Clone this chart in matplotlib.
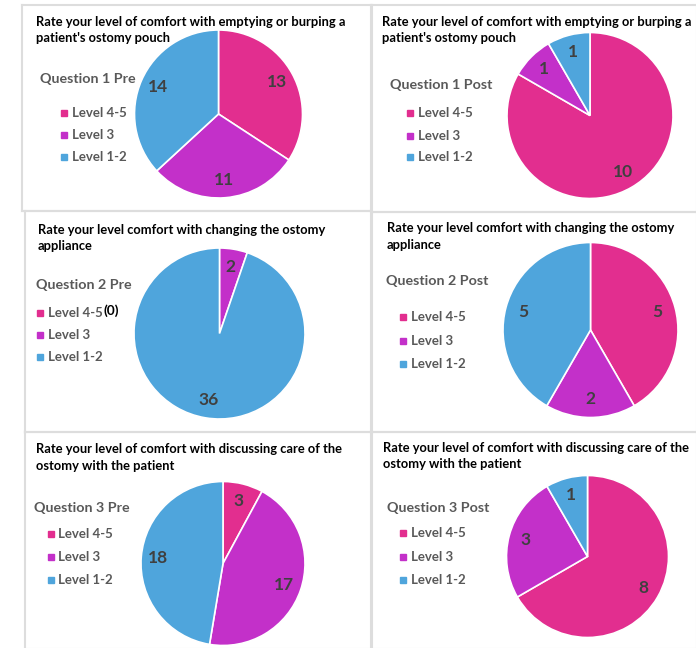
import matplotlib.pyplot as plt
from matplotlib.patches import Rectangle
from matplotlib.lines import Line2D

plt.rcParams['font.family'] = ['Lato', 'DejaVu Sans']

W, H = 696, 648

levels = ['Level 4-5', 'Level 3', 'Level 1-2']
colors = ['#E22E8F', '#C330C9', '#4FA5DC']

q1_pre = [13, 11, 14]
q1_post = [10, 1, 1]
q2_pre = [0, 2, 36]
q2_post = [5, 2, 5]
q3_pre = [3, 17, 18]
q3_post = [8, 3, 1]

title_q1 = ["Rate your level of comfort with emptying or burping a", "patient's ostomy pouch"]
title_q2 = ["Rate your level comfort with changing the ostomy", "appliance"]
title_q3 = ["Rate your level of comfort with discussing care of the", "ostomy with the patient"]

names = ['Question 1 Pre', 'Question 1 Post', 'Question 2 Pre',
         'Question 2 Post', 'Question 3 Pre', 'Question 3 Post']
values = [q1_pre, q1_post, q2_pre, q2_post, q3_pre, q3_post]
titles = [title_q1, title_q1, title_q2, title_q2, title_q3, title_q3]

# layout in pixels: box (x0, y0, x1, y1), title x and line centres, legend title xy,
# legend square x, legend rows y, pie centre and radius
layout = [
    dict(box=(22, 5, 371, 211), title=(36, 21.7, 38), lt=(40, 79), sq=64, rows=(113, 135, 157), pie=(218.5, 114, 84)),
    dict(box=(372, 5, 697, 212), title=(382, 21.7, 38), lt=(390, 85), sq=410, rows=(113, 136, 157), pie=(590, 115.5, 83)),
    dict(box=(25, 211, 371, 432), title=(38, 230, 246), lt=(36, 285), sq=40, rows=(313, 335, 357), pie=(219.5, 333.5, 85.5)),
    dict(box=(372, 212, 697, 432), title=(387, 228, 245), lt=(386, 281), sq=403, rows=(317, 341, 364), pie=(590.5, 330, 87.5)),
    dict(box=(25, 432, 371, 649), title=(36, 449, 465.7), lt=(34, 508), sq=50.5, rows=(534, 557, 580), pie=(223, 563.5, 82)),
    dict(box=(372, 432, 697, 649), title=(383, 447.7, 464.3), lt=(387, 508), sq=403, rows=(533, 557, 580), pie=(587.5, 556.5, 81)),
]

fig = plt.figure(figsize=(W / 100, H / 100), dpi=100)


def fx(x):
    return x / W


def fy(y):
    return 1 - y / H


for name, vals, title, lay in zip(names, values, titles, layout):
    # light grey frame round each chart
    x0, y0, x1, y1 = lay['box']
    for xs, ys in [((x0, x1), (y0, y0)), ((x0, x0), (y0, y1)), ((x0, x1), (y1, y1)), ((x1, x1), (y0, y1))]:
        fig.add_artist(Line2D([fx(xs[0]), fx(xs[1])], [fy(ys[0]), fy(ys[1])],
                              color='#DDDDDD', lw=1.5))

    tx, ty1, ty2 = lay['title']
    for line, ty in zip(title, (ty1, ty2)):
        fig.text(fx(tx), fy(ty), line, ha='left', va='center',
                 fontsize=9.3, fontweight='bold', color='black')
    fig.text(fx(lay['lt'][0]), fy(lay['lt'][1]), name, ha='left', va='center',
             fontsize=10.3, fontweight='bold', color='#595959')
    for lab, col, ry in zip(levels, colors, lay['rows']):
        s = 6
        fig.add_artist(Rectangle((fx(lay['sq'] - s / 2), fy(ry + s / 2)), s / W, s / H,
                                 transform=fig.transFigure, color=col))
        t = fig.text(fx(lay['sq'] + 8), fy(ry), lab, ha='left', va='center',
                     fontsize=9.5, fontweight='bold', color='#595959')
        if name == 'Question 2 Pre' and lab == 'Level 4-5':
            # "(0)" note just after the entry, a little raised
            fig.add_artist(plt.Annotation(
                '(0)', xy=(1, 0.5), xycoords=t, xytext=(0.5, 2), textcoords='offset points',
                ha='left', va='center', fontsize=9.8, fontweight='bold', color='black'))

    cx, cy, r = lay['pie']
    ax = fig.add_axes([fx(cx - r), fy(cy + r), 2 * r / W, 2 * r / H])
    wedges, texts, autotexts = ax.pie(
        vals, colors=colors, startangle=90, counterclock=False,
        autopct=lambda p, v=vals: '' if p == 0 else '%d' % round(p * sum(v) / 100),
        pctdistance=0.79, wedgeprops=dict(edgecolor='white', linewidth=1.2))
    for a in autotexts:
        a.set_fontsize(12.5)
        a.set_fontweight('bold')
        a.set_color('#404040')
    ax.set_xlim(-1, 1)
    ax.set_ylim(-1, 1)
    ax.set_aspect('equal')
    ax.axis('off')

fig.savefig('out.png', dpi=100)
